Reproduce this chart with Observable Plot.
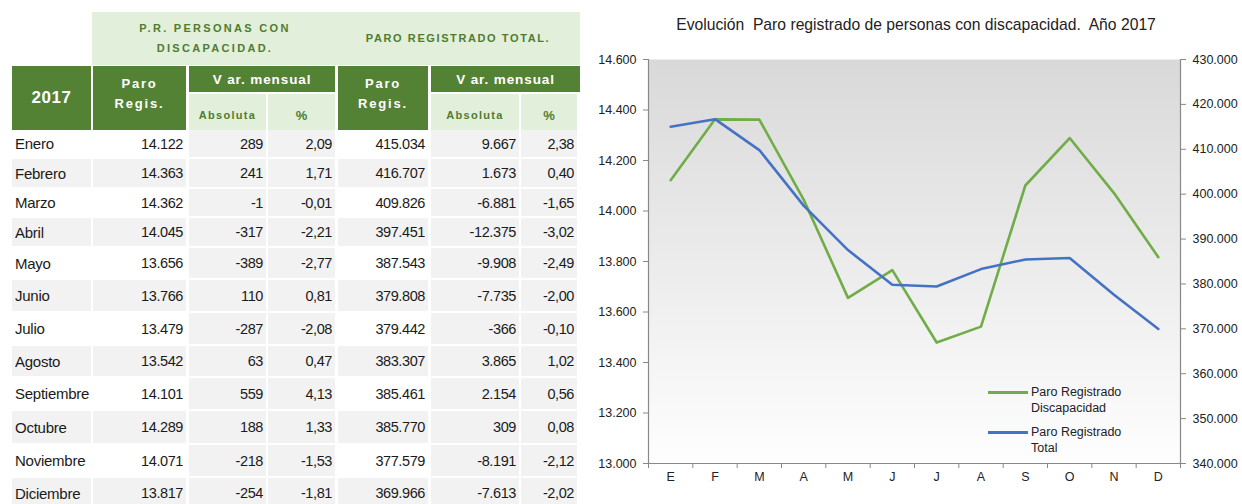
<!DOCTYPE html>
<html><head><meta charset="utf-8">
<script src="https://cdn.jsdelivr.net/npm/d3@7"></script>
<script src="https://cdn.jsdelivr.net/npm/@observablehq/plot@0.6"></script>
<style>
body{margin:0;width:1242px;height:504px;overflow:hidden;background:#fff;font-family:"Liberation Sans",Arial,sans-serif;position:relative;color:#1a1a1a}
.c{position:absolute;box-sizing:border-box;display:flex;align-items:center;white-space:nowrap;overflow:hidden}
.dk{background:#548235;color:#fff;font-weight:bold;justify-content:center;text-align:center}
.lt{background:#e2efda;color:#4f7c30;font-weight:bold;justify-content:center;text-align:center}
.num{justify-content:flex-end;padding-right:3px;font-size:14.5px;letter-spacing:-0.4px}
.mon{justify-content:flex-start;padding-left:3px;font-size:15px;letter-spacing:-0.25px}
#title{position:absolute;left:590px;width:652px;top:16px;text-align:center;font-size:15.7px;line-height:18px;color:#222}
#chart{position:absolute;left:590px;top:40px}
.lg{position:absolute;font-size:12.5px;line-height:16px;color:#222}
.lgl{position:absolute;height:3px}
</style></head><body>
<div id="table"></div>
<div id="title">Evolución&nbsp; Paro registrado de personas con discapacidad.&nbsp; Año 2017</div>
<div id="chart"></div>
<div id="legend"></div>
<script>
// ---- data ----
const months = ["Enero","Febrero","Marzo","Abril","Mayo","Junio","Julio","Agosto","Septiembre","Octubre","Noviembre","Diciembre"];
const monthLetters = ["E","F","M","A","M","J","J","A","S","O","N","D"];
const paroDisc = [14122,14363,14362,14045,13656,13766,13479,13542,14101,14289,14071,13817];
const varAbsDisc = [289,241,-1,-317,-389,110,-287,63,559,188,-218,-254];
const varPctDisc = [2.09,1.71,-0.01,-2.21,-2.77,0.81,-2.08,0.47,4.13,1.33,-1.53,-1.81];
const paroTotal = [415034,416707,409826,397451,387543,379808,379442,383307,385461,385770,377579,369966];
const varAbsTotal = [9667,1673,-6881,-12375,-9908,-7735,-366,3865,2154,309,-8191,-7613];
const varPctTotal = [2.38,0.40,-1.65,-3.02,-2.49,-2.00,-0.10,1.02,0.56,0.08,-2.12,-2.02];
const leftTicks = [13000,13200,13400,13600,13800,14000,14200,14400,14600];
const rightTicks = [340000,350000,360000,370000,380000,390000,400000,410000,420000,430000];
const seriesNames = ["Paro Registrado Discapacidad","Paro Registrado Total"];
const seriesColors = ["#70ad47","#4472c4"];

const loc = d3.formatLocale({decimal:",",thousands:".",grouping:[3],currency:["","€"],minus:"-"});
const fInt = loc.format(",.0f");
const fPct = loc.format(",.2f");

// ---- table (HTML) ----
const T = document.getElementById("table");
function cell(cls, x, y, w, h, html, style){
  const d = document.createElement("div");
  d.className = "c " + cls;
  Object.assign(d.style, {left:x+"px", top:y+"px", width:w+"px", height:h+"px"}, style||{});
  d.innerHTML = html;
  T.appendChild(d);
}
// header band
cell("lt", 92, 12, 488, 53, "");
cell("lt", 100, 16, 230, 44, "P.R. PERSONAS CON<br>DISCAPACIDAD.", {fontSize:"11px",letterSpacing:"2.3px",lineHeight:"20px",background:"transparent"});
cell("lt", 338, 16, 240, 44, "PARO REGISTRADO TOTAL.", {fontSize:"11px",letterSpacing:"1.6px",background:"transparent"});
// dark header
cell("dk", 12, 66, 79, 64, "2017", {fontSize:"17px",letterSpacing:"0.5px"});
const hs = {fontSize:"13px",letterSpacing:"1.8px",lineHeight:"20px",paddingBottom:"8px"};
cell("dk", 93, 66, 93, 64, "Paro<br>Regis.", hs);
cell("dk", 189, 66, 146, 26, "V ar. mensual", {fontSize:"13.5px",letterSpacing:"0.9px"});
cell("lt", 189, 94, 77, 36, "Absoluta", {fontSize:"11px",letterSpacing:"1.3px",paddingTop:"6px"});
cell("lt", 268, 94, 67, 36, "%", {fontSize:"13px",paddingTop:"6px"});
cell("dk", 338, 66, 90, 64, "Paro<br>Regis.", hs);
cell("dk", 431, 66, 149, 26, "V ar. mensual", {fontSize:"13.5px",letterSpacing:"0.9px"});
cell("lt", 431, 94, 88, 36, "Absoluta", {fontSize:"11px",letterSpacing:"1.3px",paddingTop:"6px"});
cell("lt", 521, 94, 56, 36, "%", {fontSize:"13px",paddingTop:"6px"});
// body rows
const rowTops = [130,159,189,218,248,280,313,346,378,411,445,478];
const cols = [[12,79],[93,93],[189,77],[268,67],[338,90],[431,88],[521,56]];
months.forEach((m,i)=>{
  const y = rowTops[i];
  const h = (i<11 ? rowTops[i+1] : y+32) - y - 2;
  const alt = i%2===1 ? "#f2f2f2" : "#ffffff";
  const vals = [m, fInt(paroDisc[i]), fInt(varAbsDisc[i]), fPct(varPctDisc[i]), fInt(paroTotal[i]), fInt(varAbsTotal[i]), fPct(varPctTotal[i])];
  vals.forEach((v,j)=>{
    const bg = (j===0||j===1||j===4) ? alt : "#f2f2f2";
    cell(j===0?"mon":"num", cols[j][0], y, cols[j][1], h, v, {background:bg});
  });
});

// ---- chart (Plot) ----
const yMin = leftTicks[0], yMax = leftTicks[leftTicks.length-1];
const rMin = rightTicks[0], rMax = rightTicks[rightTicks.length-1];
const toLeft = v => yMin + (v - rMin) * (yMax - yMin) / (rMax - rMin);
const toRight = v => rMin + (v - yMin) * (rMax - rMin) / (yMax - yMin);
const idx = d3.range(months.length);
const xDom = [-0.5, months.length - 0.5];
const bounds = d3.range(months.length + 1).map(i => i - 0.5);
const disc = idx.map(i => ({i, v: paroDisc[i]}));
const tot = idx.map(i => ({i, v: toLeft(paroTotal[i])}));

const chart = Plot.plot({
  width: 652, height: 464,
  marginLeft: 58, marginRight: 62, marginTop: 19, marginBottom: 41,
  x: {domain: xDom, axis: null},
  y: {domain: [yMin, yMax], axis: null},
  style: {fontFamily: '"Liberation Sans", Arial, sans-serif', fontSize: "12.5px", color: "#222", background: "transparent"},
  marks: [
    Plot.frame({fill: "url(#bgGrad)", stroke: "none"}),
    Plot.axisY({anchor: "left", ticks: leftTicks, tickFormat: fInt, tickSize: 5, tickPadding: 7, stroke: "#888", label: null}),
    Plot.axisY({anchor: "right", ticks: rightTicks.map(toLeft), tickFormat: d => fInt(Math.round(toRight(d))), tickSize: 5, tickPadding: 7, stroke: "#888", label: null}),
    Plot.axisX({ticks: bounds, tickFormat: () => "", tickSize: 5, stroke: "#888", label: null}),
    Plot.axisX({ticks: idx, tickFormat: i => monthLetters[i], tickSize: 0, tickPadding: 9, label: null}),
    Plot.ruleX([xDom[0], xDom[1]], {stroke: "#888", strokeWidth: 1.2}),
    Plot.ruleY([yMin], {stroke: "#888", strokeWidth: 1.2}),
    Plot.line(disc, {x: "i", y: "v", stroke: seriesColors[0], strokeWidth: 2.6}),
    Plot.line(tot, {x: "i", y: "v", stroke: seriesColors[1], strokeWidth: 2.6})
  ]
});
const defs = d3.select(chart).insert("defs", ":first-child");
const g = defs.append("linearGradient").attr("id", "bgGrad").attr("x1", 0).attr("y1", 0).attr("x2", 0).attr("y2", 1);
g.append("stop").attr("offset", "0%").attr("stop-color", "#d9d9d9");
g.append("stop").attr("offset", "100%").attr("stop-color", "#fefefe");
document.getElementById("chart").appendChild(chart);

// ---- legend ----
const L = document.getElementById("legend");
const legendTops = [384, 424];
seriesNames.forEach((name, k) => {
  const ln = document.createElement("div");
  ln.className = "lgl";
  Object.assign(ln.style, {left: "988px", top: (legendTops[k] + 7) + "px", width: "40px", background: seriesColors[k]});
  L.appendChild(ln);
  const tx = document.createElement("div");
  tx.className = "lg";
  Object.assign(tx.style, {left: "1031px", top: legendTops[k] + "px"});
  const parts = name.split(" ");
  tx.innerHTML = parts.slice(0, 2).join(" ") + "<br>" + parts.slice(2).join(" ");
  L.appendChild(tx);
});
</script>
</body></html>
